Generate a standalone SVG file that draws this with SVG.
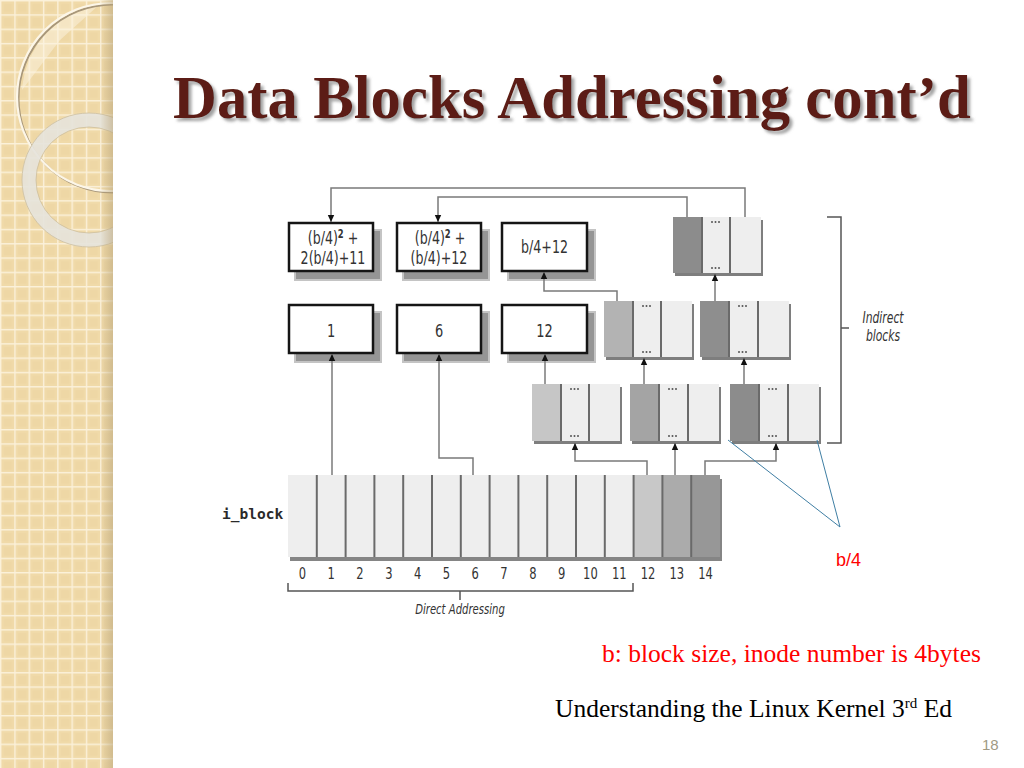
<svg xmlns="http://www.w3.org/2000/svg" width="1024" height="768" viewBox="0 0 1024 768">
<defs>
  <pattern id="grid" width="14.3" height="14.3" patternUnits="userSpaceOnUse">
    <rect width="14.3" height="14.3" fill="#f0daa9"/>
    <rect x="4" y="4" width="8" height="8" fill="#ecd5a2" opacity="0.6"/>
    <path d="M0 0.7H14.3M0.7 0V14.3" stroke="#fbf1da" stroke-width="1.4"/>
  </pattern>
  <linearGradient id="edge" x1="0" x2="1" y1="0" y2="0">
    <stop offset="0" stop-color="#b8a47a" stop-opacity="0"/>
    <stop offset="1" stop-color="#b8a47a" stop-opacity="0.55"/>
  </linearGradient>
  <clipPath id="barclip"><rect x="0" y="0" width="113" height="768"/></clipPath>
  <filter id="tshadow" x="-5%" y="-20%" width="110%" height="150%">
    <feDropShadow dx="3" dy="3" stdDeviation="1.5" flood-color="#8a8a8a" flood-opacity="0.8"/>
  </filter>
  <marker id="arr" markerWidth="8" markerHeight="8" refX="7" refY="4" orient="auto" markerUnits="userSpaceOnUse">
    <path d="M0,0.8 L7,4 L0,7.2 Z" fill="#111"/>
  </marker>
  <style>
    .box{fill:#fff;stroke:#151515;stroke-width:2.5}
    .bsh{fill:#959595}
    .bsh2{fill:#c4c4c4}
    .lbl{font-family:"DejaVu Sans Condensed","Liberation Sans Narrow","Liberation Sans",sans-serif;font-stretch:condensed;font-size:18px;fill:#333;text-anchor:middle}
    .num{font-family:"DejaVu Sans Condensed","Liberation Sans Narrow","Liberation Sans",sans-serif;font-stretch:condensed;font-size:16px;fill:#333;text-anchor:middle}
    .ital{font-family:"DejaVu Sans Condensed","Liberation Sans Narrow","Liberation Sans",sans-serif;font-stretch:condensed;font-style:italic;fill:#333;text-anchor:middle}
    .conn{fill:none;stroke:#7a7a7a;stroke-width:1.5}
    .brk{fill:none;stroke:#555;stroke-width:1.5}
    .sec{fill:#eeeeee}
    .div{stroke:#6a6a6a;stroke-width:2}
    .shd{fill:#7e7e7e}
    .dot{fill:#555}
  </style>
</defs>
<rect width="1024" height="768" fill="#fff"/>
<g id="sidebar">
  <rect x="0" y="0" width="113" height="768" fill="url(#grid)"/>
  <g clip-path="url(#barclip)">
    <path d="M22 90 A94 94 0 0 1 100 4 L60 40 Z" fill="#fbf3e2" opacity="0.5"/>
    <circle cx="112.5" cy="98.5" r="94" fill="none" stroke="#a8977a" stroke-width="2"/>
    <circle cx="111" cy="97" r="94" fill="none" stroke="#fcf6e8" stroke-width="2.2"/>
    <circle cx="89" cy="180" r="60" fill="none" stroke="#e6e3dc" stroke-width="14" opacity="0.9"/>
    <circle cx="89" cy="180" r="67" fill="none" stroke="#cdbf9f" stroke-width="0.8"/>
    <circle cx="89" cy="180" r="53" fill="none" stroke="#cdbf9f" stroke-width="0.8"/>
  </g>
  <rect x="100" y="0" width="13" height="768" fill="url(#edge)"/>
</g>
<text id="title" x="173" y="118" font-family="'Liberation Serif','Times New Roman',serif" font-weight="bold" font-size="60.8" fill="#5b1e12" filter="url(#tshadow)">Data Blocks Addressing cont’d</text>

<g id="boxA">
  <rect class="bsh2" x="294" y="229" width="88" height="52"/>
  <rect class="bsh" x="296" y="231" width="84" height="48"/>
  <rect class="box" x="289" y="223" width="84" height="48"/>
  <text class="lbl" transform="translate(333 244) scale(0.78 1)">(b/4)<tspan dy="-6" font-size="12" font-weight="bold">2</tspan><tspan dy="6"> +</tspan></text>
  <text class="lbl" transform="translate(333 264) scale(0.78 1)">2(b/4)+11</text>
</g>
<g id="boxB">
  <rect class="bsh2" x="402" y="229" width="88" height="52"/>
  <rect class="bsh" x="404" y="231" width="84" height="48"/>
  <rect class="box" x="397" y="223" width="84" height="48"/>
  <text class="lbl" transform="translate(440 244) scale(0.78 1)">(b/4)<tspan dy="-6" font-size="12" font-weight="bold">2</tspan><tspan dy="6"> +</tspan></text>
  <text class="lbl" transform="translate(439 264) scale(0.78 1)">(b/4)+12</text>
</g>
<g id="boxC">
  <rect class="bsh2" x="507" y="229" width="89" height="52"/>
  <rect class="bsh" x="509" y="231" width="85" height="48"/>
  <rect class="box" x="502" y="223" width="85" height="48"/>
  <text class="lbl" transform="translate(544.5 253) scale(0.78 1)">b/4+12</text>
</g>

<g id="box1">
  <rect class="bsh2" x="294" y="311" width="88" height="52"/>
  <rect class="bsh" x="296" y="313" width="84" height="48"/>
  <rect class="box" x="289" y="305" width="84" height="48"/>
  <text class="lbl" transform="translate(331 337) scale(0.8 1)">1</text>
</g>
<g id="box6">
  <rect class="bsh2" x="402" y="311" width="88" height="52"/>
  <rect class="bsh" x="404" y="313" width="84" height="48"/>
  <rect class="box" x="397" y="305" width="84" height="48"/>
  <text class="lbl" transform="translate(439 337) scale(0.8 1)">6</text>
</g>
<g id="box12">
  <rect class="bsh2" x="507" y="311" width="89" height="52"/>
  <rect class="bsh" x="509" y="313" width="85" height="48"/>
  <rect class="box" x="502" y="305" width="85" height="48"/>
  <text class="lbl" transform="translate(544.5 337) scale(0.8 1)">12</text>
</g>

<g id="indT">
  <rect class="shd" x="675" y="220" width="88" height="56"/>
  <rect x="673" y="217" width="29" height="56" fill="#8c8c8c"/>
  <rect class="sec" x="702" y="217" width="59" height="56"/>
  <line class="div" x1="730" y1="217" x2="730" y2="273"/>
  <line class="div" x1="702" y1="217" x2="702" y2="273"/>
  <circle class="dot" cx="712" cy="222" r="1"/><circle class="dot" cx="715.5" cy="222" r="1"/><circle class="dot" cx="719" cy="222" r="1"/>
  <circle class="dot" cx="712" cy="268" r="1"/><circle class="dot" cx="715.5" cy="268" r="1"/><circle class="dot" cx="719" cy="268" r="1"/>
</g>
<g id="indM1">
  <rect class="shd" x="606" y="304" width="88" height="56"/>
  <rect x="604" y="301" width="29" height="56" fill="#b3b3b3"/>
  <rect class="sec" x="633" y="301" width="59" height="56"/>
  <line class="div" x1="633" y1="301" x2="633" y2="357"/>
  <line class="div" x1="661" y1="301" x2="661" y2="357"/>
  <circle class="dot" cx="643" cy="306" r="1"/><circle class="dot" cx="646.5" cy="306" r="1"/><circle class="dot" cx="650" cy="306" r="1"/>
  <circle class="dot" cx="643" cy="352" r="1"/><circle class="dot" cx="646.5" cy="352" r="1"/><circle class="dot" cx="650" cy="352" r="1"/>
</g>
<g id="indM2">
  <rect class="shd" x="702" y="304" width="89" height="56"/>
  <rect x="700" y="301" width="29" height="56" fill="#8e8e8e"/>
  <rect class="sec" x="729" y="301" width="60" height="56"/>
  <line class="div" x1="729" y1="301" x2="729" y2="357"/>
  <line class="div" x1="758" y1="301" x2="758" y2="357"/>
  <circle class="dot" cx="739" cy="306" r="1"/><circle class="dot" cx="742.5" cy="306" r="1"/><circle class="dot" cx="746" cy="306" r="1"/>
  <circle class="dot" cx="739" cy="352" r="1"/><circle class="dot" cx="742.5" cy="352" r="1"/><circle class="dot" cx="746" cy="352" r="1"/>
</g>
<g id="indB1">
  <rect class="shd" x="534" y="387" width="88" height="57"/>
  <rect x="532" y="384" width="29" height="57" fill="#c6c6c6"/>
  <rect class="sec" x="561" y="384" width="59" height="57"/>
  <line class="div" x1="561" y1="384" x2="561" y2="441"/>
  <line class="div" x1="589" y1="384" x2="589" y2="441"/>
  <circle class="dot" cx="571" cy="389" r="1"/><circle class="dot" cx="574.5" cy="389" r="1"/><circle class="dot" cx="578" cy="389" r="1"/>
  <circle class="dot" cx="571" cy="436" r="1"/><circle class="dot" cx="574.5" cy="436" r="1"/><circle class="dot" cx="578" cy="436" r="1"/>
</g>
<g id="indB2">
  <rect class="shd" x="632" y="387" width="89" height="57"/>
  <rect x="630" y="384" width="29" height="57" fill="#a4a4a4"/>
  <rect class="sec" x="659" y="384" width="60" height="57"/>
  <line class="div" x1="659" y1="384" x2="659" y2="441"/>
  <line class="div" x1="688" y1="384" x2="688" y2="441"/>
  <circle class="dot" cx="669" cy="389" r="1"/><circle class="dot" cx="672.5" cy="389" r="1"/><circle class="dot" cx="676" cy="389" r="1"/>
  <circle class="dot" cx="669" cy="436" r="1"/><circle class="dot" cx="672.5" cy="436" r="1"/><circle class="dot" cx="676" cy="436" r="1"/>
</g>
<g id="indB3">
  <rect class="shd" x="732" y="387" width="89" height="57"/>
  <rect x="730" y="384" width="29" height="57" fill="#8c8c8c"/>
  <rect class="sec" x="759" y="384" width="60" height="57"/>
  <line class="div" x1="759" y1="384" x2="759" y2="441"/>
  <line class="div" x1="788" y1="384" x2="788" y2="441"/>
  <circle class="dot" cx="769" cy="389" r="1"/><circle class="dot" cx="772.5" cy="389" r="1"/><circle class="dot" cx="776" cy="389" r="1"/>
  <circle class="dot" cx="769" cy="436" r="1"/><circle class="dot" cx="772.5" cy="436" r="1"/><circle class="dot" cx="776" cy="436" r="1"/>
</g>

<g id="indirectLabel">
  <path class="brk" d="M827,217 H841 V443 H827 M841,328 H849"/>
  <text class="ital" font-size="16" transform="translate(883 323) scale(0.75 1)">Indirect</text>
  <text class="ital" font-size="16" transform="translate(883 341) scale(0.75 1)">blocks</text>
</g>

<g id="iblock">
  <rect x="290" y="479" width="432" height="82" fill="#858585"/>
  <rect x="288" y="475" width="346" height="82" fill="#eeeeee"/>
  <rect x="633.6" y="475" width="28.8" height="82" fill="#c8c8c8"/>
  <rect x="662.4" y="475" width="28.8" height="82" fill="#ababab"/>
  <rect x="691.2" y="475" width="28.8" height="82" fill="#979797"/>
  <g class="div">
    <line x1="316.8" y1="475" x2="316.8" y2="557"/><line x1="345.6" y1="475" x2="345.6" y2="557"/>
    <line x1="374.4" y1="475" x2="374.4" y2="557"/><line x1="403.2" y1="475" x2="403.2" y2="557"/>
    <line x1="432" y1="475" x2="432" y2="557"/><line x1="460.8" y1="475" x2="460.8" y2="557"/>
    <line x1="489.6" y1="475" x2="489.6" y2="557"/><line x1="518.4" y1="475" x2="518.4" y2="557"/>
    <line x1="547.2" y1="475" x2="547.2" y2="557"/><line x1="576" y1="475" x2="576" y2="557"/>
    <line x1="604.8" y1="475" x2="604.8" y2="557"/><line x1="633.6" y1="475" x2="633.6" y2="557"/>
    <line x1="662.4" y1="475" x2="662.4" y2="557"/><line x1="691.2" y1="475" x2="691.2" y2="557"/>
  </g>
  <text x="222" y="519" font-family="'DejaVu Sans Mono','Liberation Mono',monospace" font-weight="bold" font-size="14.5" fill="#2a2a2a">i_block</text>
  <g class="num">
    <text transform="translate(302.4 579) scale(0.8 1)">0</text><text transform="translate(331.2 579) scale(0.8 1)">1</text><text transform="translate(360 579) scale(0.8 1)">2</text>
    <text transform="translate(388.8 579) scale(0.8 1)">3</text><text transform="translate(417.6 579) scale(0.8 1)">4</text><text transform="translate(446.4 579) scale(0.8 1)">5</text>
    <text transform="translate(475.2 579) scale(0.8 1)">6</text><text transform="translate(504 579) scale(0.8 1)">7</text><text transform="translate(532.8 579) scale(0.8 1)">8</text>
    <text transform="translate(561.6 579) scale(0.8 1)">9</text><text transform="translate(590.4 579) scale(0.8 1)">10</text><text transform="translate(619.2 579) scale(0.8 1)">11</text>
    <text transform="translate(648 579) scale(0.8 1)">12</text><text transform="translate(676.8 579) scale(0.8 1)">13</text><text transform="translate(705.6 579) scale(0.8 1)">14</text>
  </g>
  <path class="brk" d="M288,583 V591 H633 V583 M460,591 V600"/>
  <text class="ital" font-size="14" transform="translate(460 614) scale(0.8 1)">Direct Addressing</text>
</g>

<g id="connectors">
  <path class="conn" d="M745,217 V188 H331 V222" marker-end="url(#arr)"/>
  <path class="conn" d="M687,217 V197 H438 V222" marker-end="url(#arr)"/>
  <path class="conn" d="M617,301 V291 H544 V272" marker-end="url(#arr)"/>
  <path class="conn" d="M715,301 V274" marker-end="url(#arr)"/>
  <path class="conn" d="M545,384 V354" marker-end="url(#arr)"/>
  <path class="conn" d="M644,384 V358" marker-end="url(#arr)"/>
  <path class="conn" d="M744,384 V358" marker-end="url(#arr)"/>
  <path class="conn" d="M332,475 V354" marker-end="url(#arr)"/>
  <path class="conn" d="M473,475 V458 H439 V354" marker-end="url(#arr)"/>
  <path class="conn" d="M647,475 V461 H575 V443" marker-end="url(#arr)"/>
  <path class="conn" d="M675,475 V443" marker-end="url(#arr)"/>
  <path class="conn" d="M705,475 V461 H776 V443" marker-end="url(#arr)"/>
</g>

<g id="b4note">
  <path d="M728,440 L840,527 L817,440" fill="none" stroke="#3f7ea3" stroke-width="1"/>
  <text x="836" y="566" font-family="'Liberation Sans',Arial,sans-serif" font-size="18" fill="#ff0000">b/4</text>
</g>
<text x="602" y="662" font-family="'Liberation Serif','Times New Roman',serif" font-size="25.5" fill="#ff0000">b: block size, inode number is 4bytes</text>
<text x="555" y="717" font-family="'Liberation Serif','Times New Roman',serif" font-size="25.5" fill="#000">Understanding the Linux Kernel 3<tspan dy="-9" font-size="15">rd</tspan><tspan dy="9"> Ed</tspan></text>
<text x="982" y="750" font-family="'Liberation Sans',Arial,sans-serif" font-size="15" fill="#a09a84">18</text>
</svg>
